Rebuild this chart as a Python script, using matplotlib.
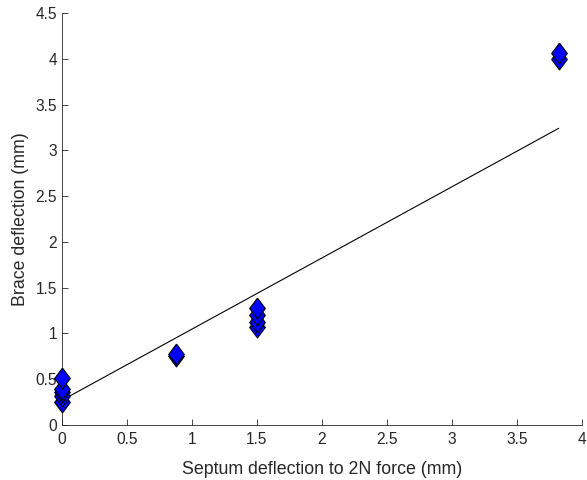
import matplotlib
matplotlib.use("Agg")
import matplotlib.pyplot as plt
import numpy as np

septum = [0, 0, 0, 0, 0, 0.88, 0.88, 1.5, 1.5, 1.5, 1.5, 3.82, 3.82]
brace = [0.25, 0.32, 0.36, 0.39, 0.51, 0.75, 0.78, 1.07, 1.13, 1.20, 1.28, 4.00, 4.06]

fit_x = [0, 3.82]
fit_y = [0.27, 3.24]

plt.rcParams['font.family'] = ['Liberation Sans', 'DejaVu Sans']
fig = plt.figure(figsize=(5.87, 4.8), dpi=100)
ax = fig.add_axes([62/587, 55/480, (582-62)/587, (425-13)/480])

gray = (0.15, 0.15, 0.15)
diamond = [(0, 1), (0.75, 0), (0, -1), (-0.75, 0), (0, 1)]
ax.plot(septum, brace, linestyle='none', marker=diamond, markersize=15,
        markerfacecolor='#0000ff', markeredgecolor='black', markeredgewidth=0.8, clip_on=False, zorder=3)
ax.plot(fit_x, fit_y, color='black', linewidth=0.8, zorder=2)

ax.set_xlim(0, 4)
ax.set_ylim(0, 4.5)
ax.set_xticks(np.arange(0, 4.01, 0.5))
ax.set_yticks(np.arange(0, 4.51, 0.5))
ax.set_xticklabels(['0', '0.5', '1', '1.5', '2', '2.5', '3', '3.5', '4'])
ax.set_yticklabels(['0', '0.5', '1', '1.5', '2', '2.5', '3', '3.5', '4', '4.5'])
for s in ['top', 'right']:
    ax.spines[s].set_visible(False)
for s in ['left', 'bottom']:
    ax.spines[s].set_color(gray)
    ax.spines[s].set_linewidth(0.6)
ax.tick_params(direction='in', length=4, width=0.6, colors=gray, labelsize=11.2, labelcolor=gray)
ax.tick_params(axis='x', pad=5)
ax.set_xlabel('Septum deflection to 2N force (mm)', fontsize=12.8, color=gray, labelpad=10)
ax.set_ylabel('Brace deflection (mm)', fontsize=12.8, color=gray, labelpad=5)

fig.savefig('out.png', dpi=100)
